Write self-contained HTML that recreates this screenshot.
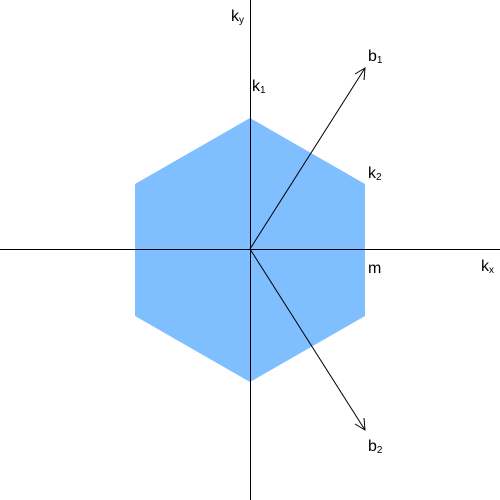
<!DOCTYPE html>
<html><head><meta charset="utf-8"><style>body{margin:0;background:#fff}svg{display:block}text{font-family:"Liberation Sans",sans-serif;fill:#000}</style></head>
<body>
<svg width="500" height="500" viewBox="0 0 500 500">
<polygon points="250,118 365,184 365,316 250,382 135,316 135,184" fill="#80bfff"/>
<line x1="0" y1="249.5" x2="500" y2="249.5" stroke="#000" stroke-width="1"/>
<line x1="250.5" y1="0" x2="250.5" y2="500" stroke="#000" stroke-width="1"/>
<g stroke="#000" fill="none" stroke-width="1">
<line x1="250" y1="249" x2="365" y2="68"/>
<polyline points="355,74 365,68 364,80"/>
</g>
<g stroke="#000" fill="none" stroke-width="1">
<line x1="250" y1="249" x2="365" y2="430"/>
<polyline points="355,424 365,430 364,418"/>
</g>
<text x="231" y="21" font-size="16">k<tspan font-size="10" dy="2">y</tspan></text>
<text x="252" y="91" font-size="16">k<tspan font-size="10" dy="2">1</tspan></text>
<text x="368" y="61" font-size="16">b<tspan font-size="10" dy="2">1</tspan></text>
<text x="368" y="178" font-size="16">k<tspan font-size="10" dy="2">2</tspan></text>
<text x="368" y="273" font-size="16">m</text>
<text x="481" y="271" font-size="16">k<tspan font-size="10" dy="2">x</tspan></text>
<text x="368" y="451" font-size="16">b<tspan font-size="10" dy="2">2</tspan></text>
</svg>
</body></html>
